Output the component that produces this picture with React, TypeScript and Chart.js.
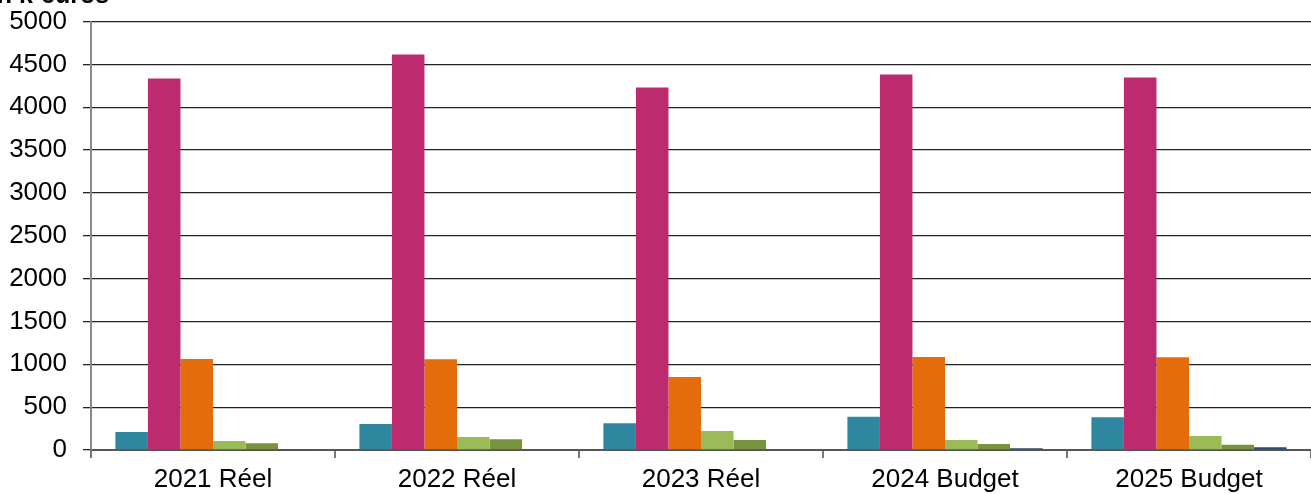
import React, { useEffect, useRef } from "react";
import { Chart, registerables } from "chart.js";

Chart.register(...registerables);

const categories = ["2021 Réel", "2022 Réel", "2023 Réel", "2024 Budget", "2025 Budget"];
const seriesA = [210, 303, 311, 388, 381];
const seriesB = [4336, 4615, 4231, 4382, 4347];
const seriesC = [1062, 1058, 851, 1084, 1082];
const seriesD = [105, 152, 221, 117, 163];
const seriesE = [78, 125, 117, 70, 62];
const seriesF = [12, 8, 0, 20, 33];
const seriesColors = ["#2E879E", "#BE2A6E", "#E46C0A", "#9BBB59", "#77933C", "#2B4B68"];
const titleText = "En k-euros";

export default function App() {
  const ref = useRef<HTMLCanvasElement | null>(null);
  useEffect(() => {
    const values = [seriesA, seriesB, seriesC, seriesD, seriesE, seriesF];
    const family = "'Liberation Sans', Arial, sans-serif";
    const chart = new Chart(ref.current!, {
      type: "bar",
      data: {
        labels: categories,
        datasets: values.map((v, i) => ({
          label: "s" + i,
          data: v,
          backgroundColor: seriesColors[i],
          borderWidth: 0,
          categoryPercentage: 0.8,
          barPercentage: 1.0,
        })),
      },
      options: {
        animation: false,
        responsive: false,
        layout: { padding: { top: 11, left: 0, right: 0, bottom: 0 } },
        plugins: { legend: { display: false }, tooltip: { enabled: false }, title: { display: false } },
        scales: {
          x: {
            offset: true,
            grid: { display: true, offset: true, drawOnChartArea: false, tickLength: 8, color: "#777", lineWidth: 2 },
            border: { display: true, color: "#555", width: 2 },
            ticks: { font: { family, size: 26 }, color: "#000", padding: 6, maxRotation: 0 },
            afterFit: (s: any) => { s.height = 44; },
          },
          y: {
            min: 0,
            max: 5000,
            ticks: {
              stepSize: 500,
              font: { family, size: 26 },
              color: "#000",
              padding: 16,
              callback: (v: any) => String(v),
            },
            grid: { color: "#222", lineWidth: 1.3, tickLength: 8 },
            border: { display: true, color: "#888", width: 2 },
            afterFit: (s: any) => { s.width = 91; },
          },
        },
      },
    });
    return () => chart.destroy();
  }, []);
  return (
    <div style={{ position: "absolute", left: 0, top: 0, width: 1311, height: 494, overflow: "hidden", background: "#fff" }}>
      <canvas ref={ref} width={1311} height={504} style={{ position: "absolute", left: 0, top: -10 }} />
      <div
        style={{
          position: "absolute",
          left: -20,
          top: -18,
          font: "bold 25px 'Liberation Sans', Arial, sans-serif",
          lineHeight: "25px",
          whiteSpace: "nowrap",
          color: "#000",
        }}
      >
        {titleText}
      </div>
    </div>
  );
}
